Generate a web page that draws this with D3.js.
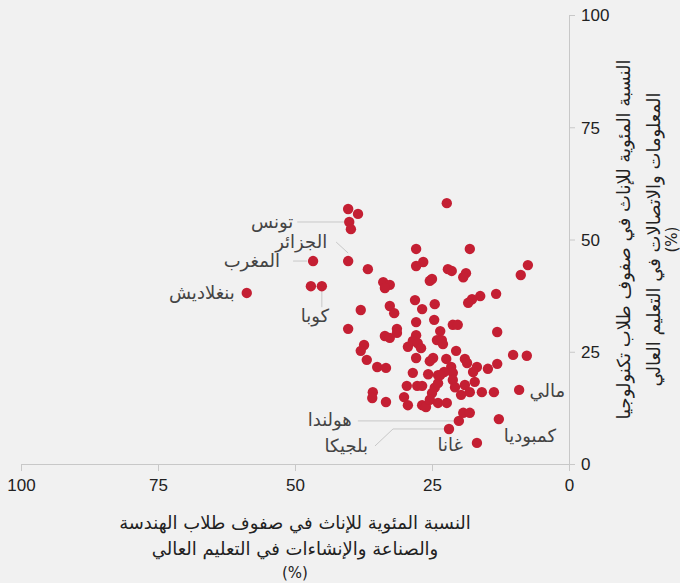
<!DOCTYPE html>
<html>
<head>
<meta charset="utf-8">
<script src="https://cdn.jsdelivr.net/npm/d3@7"></script>
<style>
  body { margin: 0; background: #f1f1f1; }
  .tick text { font-family: "Liberation Sans", Arial, sans-serif; font-size: 17px; fill: #222; }
  .arabic { font-family: "DejaVu Sans", sans-serif; }
</style>
</head>
<body>
<div class="chart"></div>
<script>
// share of women among engineering / ICT students in tertiary education (%)
// first ten entries are the labelled countries
var countryNames = ["تونس", "الجزائر", "المغرب", "بنغلاديش", "كوبا", "هولندا", "بلجيكا", "غانا", "كمبوديا", "مالي"];
var engShare = [40.1, 40.3, 46.7, 58.8, 45.1, 20.1, 21.9, 16.8, 12.8, 9.1,
  40.3, 38.5, 39.8, 22.3, 36.7, 47.1, 38.0, 40.3, 27.9, 18.1,
  26.6, 27.9, 22.1, 21.4, 18.8, 19.3, 7.5, 8.8, 25.4, 25.0,
  33.9, 32.7, 33.6, 28.1, 24.5, 26.8, 32.7, 31.9, 16.2, 13.3,
  17.7, 18.4, 27.9, 24.6, 21.2, 20.3, 13.1, 31.4, 31.4, 33.6,
  32.7, 27.9, 23.5, 24.1, 23.2, 23.0, 29.4, 28.5, 27.6, 27.0,
  37.4, 38.0, 20.6, 10.2, 7.7, 24.8, 25.4, 22.4, 19.0, 27.9,
  36.9, 35.0, 33.4, 28.5, 25.7, 23.9, 29.6, 27.7, 26.8, 24.5,
  23.9, 25.0, 35.8, 35.9, 33.4, 30.1, 29.4, 26.8, 26.1, 25.4,
  23.9, 22.3, 18.6, 16.8, 17.5, 14.8, 13.1, 21.5, 21.2, 22.8,
  23.5, 17.2, 21.2, 20.8, 19.0, 18.1, 19.7, 15.9, 13.7, 19.3,
  18.1];
var ictShare = [53.9, 45.2, 45.2, 38.1, 39.6, 9.6, 7.8, 4.7, 10.0, 16.5,
  56.8, 55.7, 52.3, 58.1, 43.4, 39.6, 34.3, 30.1, 47.9, 47.9,
  45.0, 44.1, 43.4, 43.0, 42.5, 41.6, 44.3, 42.1, 40.8, 41.2,
  40.5, 39.9, 39.2, 36.5, 35.6, 34.5, 35.2, 33.6, 37.4, 37.9,
  36.7, 35.9, 31.6, 32.1, 31.0, 31.0, 29.4, 30.1, 29.2, 28.5,
  28.1, 28.7, 29.6, 27.6, 27.6, 26.7, 26.1, 27.4, 26.9, 25.8,
  26.5, 25.2, 25.2, 24.3, 24.1, 23.6, 22.9, 23.4, 23.4, 23.6,
  23.2, 21.6, 21.4, 20.3, 20.0, 19.8, 17.4, 17.4, 17.4, 17.0,
  18.0, 15.8, 16.0, 14.7, 13.8, 14.9, 13.1, 13.1, 12.7, 14.3,
  13.6, 13.6, 22.5, 21.6, 20.5, 21.2, 22.3, 21.6, 20.3, 20.5,
  19.8, 18.3, 18.7, 17.1, 17.6, 16.0, 15.4, 16.0, 16.0, 11.4,
  11.4];
var tickValues = [0, 25, 50, 75, 100];
var xTitle = ["النسبة المئوية للإناث في صفوف طلاب الهندسة", "والصناعة والإنشاءات في التعليم العالي", "(%)"];
var yTitle = ["النسبة المئوية للإناث في صفوف طلاب تكنولوجيا", "المعلومات والاتصالات في التعليم العالي", "(%)"];

var svgWidth = 680;
var svgHeight = 583;
var margin = { top: 15, right: 111, bottom: 119, left: 21 };
var width = svgWidth - margin.left - margin.right;
var height = svgHeight - margin.top - margin.bottom;

var svg = d3.select(".chart")
  .append("svg")
  .attr("width", svgWidth)
  .attr("height", svgHeight);

var chartGroup = svg.append("g")
  .attr("transform", `translate(${margin.left}, ${margin.top})`);

// x runs from 100 on the left down to 0 on the right
var xScale = d3.scaleLinear().domain([100, 0]).range([0, width]);
var yScale = d3.scaleLinear().domain([0, 100]).range([height, 0]);

var bottomAxis = d3.axisBottom(xScale).tickValues(tickValues).tickSizeInner(7).tickSizeOuter(0).tickPadding(8);
var rightAxis = d3.axisRight(yScale).tickValues(tickValues).tickSizeInner(6).tickSizeOuter(0).tickPadding(6);

var xAxisG = chartGroup.append("g")
  .attr("transform", `translate(0, ${height})`)
  .call(bottomAxis);
var yAxisG = chartGroup.append("g")
  .attr("transform", `translate(${width}, 0)`)
  .call(rightAxis);

[xAxisG, yAxisG].forEach(function(g) {
  g.select(".domain").attr("stroke", "#c8c8c8");
  g.selectAll(".tick line").attr("stroke", "#c8c8c8");
});
yAxisG.selectAll(".tick text").attr("dy", "0.35em");

// leader lines and labels for the named countries
var labelLayout = [
  { anchor: "end", dx: -56, dy: 6, lead: [[-52, 0], [-4, 0]] },
  { anchor: "end", dx: -21, dy: -13, lead: [[-12, -19], [0, -8]] },
  { anchor: "end", dx: -33, dy: 6, lead: [[-20, 0], [-6, 0]] },
  { anchor: "end", dx: -12, dy: 6, lead: [] },
  { anchor: "middle", dx: -7, dy: 36, lead: [[0, 5], [0, 21]] },
  { anchor: "end", dx: -107, dy: 5, lead: [[-101, 0], [-3, 0]] },
  { anchor: "end", dx: -81, dy: 23, lead: [[-74, 17], [-56, 0], [-3, 0]] },
  { anchor: "end", dx: -14, dy: 8, lead: [] },
  { anchor: "middle", dx: 31, dy: 23, lead: [] },
  { anchor: "end", dx: 46, dy: 7, lead: [] }
];

var line = d3.line();
countryNames.forEach(function(name, i) {
  var px = xScale(engShare[i]);
  var py = yScale(ictShare[i]);
  var lay = labelLayout[i];
  if (lay.lead.length) {
    chartGroup.append("path")
      .attr("d", line(lay.lead.map(p => [px + p[0], py + p[1]])))
      .attr("fill", "none")
      .attr("stroke", "#c8c8c8")
      .attr("stroke-width", 1);
  }
  chartGroup.append("text")
    .attr("class", "arabic")
    .attr("x", px + lay.dx)
    .attr("y", py + lay.dy)
    .attr("text-anchor", lay.anchor)
    .attr("font-size", 18)
    .attr("fill", "#444")
    .text(name);
});

// points
chartGroup.selectAll("circle")
  .data(engShare.map((v, i) => [v, ictShare[i]]))
  .enter()
  .append("circle")
  .attr("cx", d => xScale(d[0]))
  .attr("cy", d => yScale(d[1]))
  .attr("r", 5.2)
  .attr("fill", "#c41f33");

// axis titles
chartGroup.append("text")
  .attr("class", "arabic")
  .attr("text-anchor", "middle")
  .attr("fill", "#222")
  .selectAll("tspan")
  .data(xTitle)
  .enter()
  .append("tspan")
  .attr("x", width / 2)
  .attr("y", (d, i) => height + [65, 91, 114][i])
  .attr("font-size", (d, i) => i == 2 ? 15 : 18)
  .text(d => d);

chartGroup.append("text")
  .attr("class", "arabic")
  .attr("text-anchor", "middle")
  .attr("fill", "#222")
  .attr("transform", `translate(${width}, ${height / 2}) rotate(-90)`)
  .selectAll("tspan")
  .data(yTitle)
  .enter()
  .append("tspan")
  .attr("x", 0)
  .attr("y", (d, i) => [61, 91, 108][i])
  .attr("font-size", (d, i) => i == 2 ? 15 : 18)
  .text(d => d);
</script>
</body>
</html>
